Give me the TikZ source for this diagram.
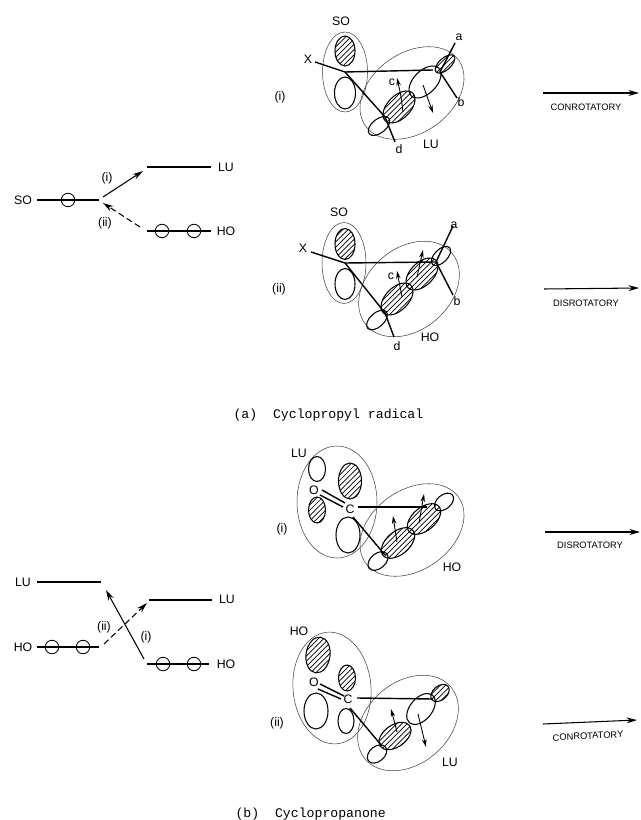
\documentclass[tikz,border=0pt]{standalone}
\usepackage{fontspec}
\setsansfont{Liberation Sans}
\setmonofont{Liberation Mono}
\usepackage{tikz}
\usetikzlibrary{arrows.meta}
\usetikzlibrary{patterns}
\usetikzlibrary{shapes.geometric}
\tikzset{every picture/.style={line width=0.6pt}}
\tikzset{
  lobesize/.style 2 args={minimum width=#1*0.02cm,minimum height=#2*0.02cm},
  lobe/.style={shape=ellipse,draw,inner sep=0pt,outer sep=0pt,line width=0.6pt},
  hatch/.style={lobe,pattern=north east lines},
  shell/.style={shape=ellipse,draw,inner sep=0pt,outer sep=0pt,line width=0.3pt,black!75},
  elec/.style={shape=circle,draw,inner sep=0pt,outer sep=0pt,minimum size=0.27cm,line width=0.5pt},
  lab/.style={font=\sffamily\fontsize{7}{8}\selectfont,inner sep=0pt},
  tiny lab/.style={font=\sffamily\fontsize{5.3}{6}\selectfont,inner sep=0pt},
  capline/.style={font=\ttfamily\fontsize{7.5}{9}\selectfont,inner sep=0pt,anchor=west},
  level/.style={line width=0.8pt},
  bond/.style={line width=0.8pt},
  go/.style={-{Stealth[length=6pt,width=3.4pt]},line width=0.6pt},
  spin/.style={-{Stealth[length=4.5pt,width=2.6pt]},line width=0.5pt},
  broken/.style={dash pattern=on 3.5pt off 2pt},
}
\begin{document}
\begin{tikzpicture}[x=0.02cm,y=-0.02cm]
\useasboundingbox (0,0) rectangle (640,820);
% levels (a)
\node[lab] (so) at (23,200) {SO};
\coordinate (so1) at (37,200);
\coordinate (so2) at (99,200);
\node[elec] (e1) at (68,200) {};
\draw[level] (so1) -- (so2);
\coordinate (lu1) at (147,167);
\coordinate (lu2) at (211,167);
\node[lab] (lu) at (226,167) {LU};
\draw[level] (lu1) -- (lu2);
\coordinate (ho1) at (147,231);
\coordinate (ho2) at (211,231);
\node[elec] (e2) at (162,231) {};
\node[elec] (e3) at (194,231) {};
\node[lab] (ho) at (226,231) {HO};
\draw[level] (ho1) -- (ho2);
\coordinate (g1) at (103,197);
\coordinate (g2) at (143,171);
\coordinate (g3) at (140,227);
\coordinate (g4) at (103,203);
\draw[go] (g1) -- (g2);
\draw[go,broken] (g3) -- (g4);
\node[lab] (l1) at (107,178) {(i)};
\node[lab] (l2) at (105,223) {(ii)};
% a (i)
\node[lab] (t1) at (280,97) {(i)};
\node[lab] (t2) at (341,21) {SO};
\node[lab] (t3) at (308,59) {X};
\node[shell,lobesize={45}{80}] (s1) at (345,72) {};
\node[shell,lobesize={114}{80},rotate=35] (s2) at (412,93) {};
\node[hatch,lobesize={20}{30}] (p1) at (345,51) {};
\node[lobe,lobesize={21}{32}] (p2) at (345,93) {};
\node[lobe,lobesize={25}{14},rotate=38] (p3) at (379,126) {};
\node[hatch,lobesize={39}{23},rotate=45] (p4) at (399,107) {};
\node[lobe,lobesize={39}{23},rotate=45] (p5) at (425,82) {};
\node[hatch,lobesize={24}{12},rotate=42] (p6) at (445,64) {};
\coordinate (x1) at (315,62);
\coordinate (c1) at (345,72);
\coordinate (c2) at (433,70);
\coordinate (c3) at (385,117);
\coordinate (c4) at (395,142);
\coordinate (c5) at (440,72);
\coordinate (c6) at (455,43);
\coordinate (c7) at (457,98);
\draw[bond] (x1) -- (c1) -- (c2);
\draw[bond] (c1) -- (c3) -- (c4);
\draw[bond] (c6) -- (c5) -- (c7);
\coordinate (r1) at (403,112);
\coordinate (r2) at (397,78);
\coordinate (r3) at (423,85);
\coordinate (r4) at (433,113);
\draw[spin] (r1) .. controls (401,96) .. (r2);
\draw[spin] (r3) -- (r4);
\node[lab] (t4) at (459,37) {a};
\node[lab] (t5) at (461,102) {b};
\node[lab] (t6) at (392,82) {c};
\node[lab] (t7) at (399,149) {d};
\node[lab] (t8) at (431,144) {LU};
% a (ii)
\node[lab] (u1) at (279,289) {(ii)};
\node[lab] (u2) at (339,212) {SO};
\node[lab] (u3) at (303,248) {X};
\node[shell,lobesize={44}{81}] (s3) at (344,263) {};
\node[shell,lobesize={112}{82},rotate=40] (s4) at (409,289) {};
\node[hatch,lobesize={20}{31}] (p7) at (345,244) {};
\node[lobe,lobesize={20}{31}] (p8) at (345,284) {};
\node[lobe,lobesize={25}{14},rotate=42] (p9) at (377,320) {};
\node[hatch,lobesize={39}{23},rotate=45] (p10) at (397,299) {};
\node[hatch,lobesize={39}{23},rotate=45] (p11) at (422,274) {};
\node[lobe,lobesize={24}{13},rotate=45] (p12) at (441,256) {};
\coordinate (x2) at (311,252);
\coordinate (d1) at (345,263);
\coordinate (d2) at (435,262);
\coordinate (d3) at (385,313);
\coordinate (d4) at (394,337);
\coordinate (d5) at (436,262);
\coordinate (d6) at (453,226);
\coordinate (d7) at (453,295);
\draw[bond] (x2) -- (d1) -- (d2);
\draw[bond] (d1) -- (d3) -- (d4);
\draw[bond] (d6) -- (d5) -- (d7);
\coordinate (r5) at (402,297);
\coordinate (r6) at (397,271);
\coordinate (r7) at (417,277);
\coordinate (r8) at (423,250);
\draw[spin] (r5) -- (r6);
\draw[spin] (r7) -- (r8);
\node[lab] (u5) at (454,225) {a};
\node[lab] (u6) at (457,301) {b};
\node[lab] (u7) at (391,276) {c};
\node[lab] (u8) at (397,346) {d};
\node[lab] (u9) at (430,337) {HO};
% side arrows (a)
\coordinate (k1) at (543,93);
\coordinate (k2) at (639,93);
\draw[go] (k1) -- (k2);
\node[tiny lab] (k3) at (586,107) {CONROTATORY};
\coordinate (k4) at (544,289);
\coordinate (k5) at (639,288);
\draw[go] (k4) -- (k5);
\node[tiny lab] (k6) at (586,303) {DISROTATORY};
\node[capline] (k7) at (233,415) {(a)\ \ Cyclopropyl radical};
% levels (b)
\node[lab] (lu3) at (23,582) {LU};
\coordinate (m1) at (37,582);
\coordinate (m2) at (101,582);
\draw[level] (m1) -- (m2);
\node[lab] (ho3) at (23,647) {HO};
\coordinate (m3) at (37,647);
\coordinate (m4) at (99,647);
\node[elec] (e4) at (52,647) {};
\node[elec] (e5) at (83,647) {};
\draw[level] (m3) -- (m4);
\coordinate (m5) at (149,600);
\coordinate (m6) at (212,600);
\node[lab] (lu4) at (227,599) {LU};
\draw[level] (m5) -- (m6);
\coordinate (m7) at (147,664);
\coordinate (m8) at (209,664);
\node[elec] (e6) at (163,664) {};
\node[elec] (e7) at (194,664) {};
\node[lab] (ho4) at (226,664) {HO};
\draw[level] (m7) -- (m8);
\coordinate (g5) at (144,659);
\coordinate (g6) at (106,590);
\coordinate (g7) at (104,644);
\coordinate (g8) at (147,603);
\draw[go] (g5) -- (g6);
\draw[go,broken] (g7) -- (g8);
\node[lab] (l3) at (104,627) {(ii)};
\node[lab] (l4) at (146,637) {(i)};
% b (i)
\node[lab] (v1) at (282,529) {(i)};
\node[lab] (v2) at (299,453) {LU};
\node[shell,lobesize={80}{112}] (s5) at (337,502) {};
\node[shell,lobesize={114}{80},rotate=35] (s6) at (412,530) {};
\node[lobe,lobesize={17}{25}] (p13) at (317,469) {};
\node[hatch,lobesize={23}{36}] (p14) at (350,481) {};
\node[hatch,lobesize={17}{26}] (p15) at (317,510) {};
\node[lobe,lobesize={24}{36}] (p16) at (348,535) {};
\node[lobe,lobesize={23}{15},rotate=40] (p17) at (378,561) {};
\node[hatch,lobesize={39}{23},rotate=40] (p18) at (398,543) {};
\node[hatch,lobesize={39}{23},rotate=40] (p19) at (424,519) {};
\node[lobe,lobesize={22}{14},rotate=40] (p20) at (444,502) {};
\node[lab] (o1) at (314,490) {O};
\node[lab] (c8) at (350,509) {C};
\coordinate (n1) at (322,490);
\coordinate (n2) at (345,503);
\coordinate (n3) at (320,495);
\coordinate (n4) at (343,507);
\coordinate (n5) at (358,507);
\coordinate (n6) at (427,507);
\coordinate (n7) at (353,517);
\coordinate (n8) at (385,555);
\draw[bond] (n1) -- (n2);
\draw[bond] (n3) -- (n4);
\draw[bond] (n5) -- (n6);
\draw[bond] (n7) -- (n8);
\coordinate (r9) at (397,542);
\coordinate (r10) at (393,516);
\coordinate (r11) at (419,523);
\coordinate (r12) at (424,494);
\draw[spin] (r9) -- (r10);
\draw[spin] (r11) -- (r12);
\node[lab] (v3) at (452,567) {HO};
% b (ii)
\node[lab] (w1) at (277,723) {(ii)};
\node[lab] (w2) at (299,631) {HO};
\node[shell,lobesize={78}{112},rotate=5] (s7) at (332,688) {};
\node[shell,lobesize={112}{82},rotate=40] (s8) at (408,723) {};
\node[hatch,lobesize={24}{36},rotate=-8] (p21) at (318,655) {};
\node[hatch,lobesize={17}{26}] (p22) at (347,678) {};
\node[lobe,lobesize={24}{36}] (p23) at (316,711) {};
\node[lobe,lobesize={16}{25}] (p24) at (346,721) {};
\node[lobe,lobesize={22}{15},rotate=40] (p25) at (377,754) {};
\node[hatch,lobesize={36}{22},rotate=35] (p26) at (395,736) {};
\node[lobe,lobesize={36}{22},rotate=50] (p27) at (421,709) {};
\node[hatch,lobesize={21}{14},rotate=40] (p28) at (440,693) {};
\node[lab] (o2) at (314,682) {O};
\node[lab] (c9) at (348,699) {C};
\coordinate (q1) at (320,684);
\coordinate (q2) at (344,696);
\coordinate (q3) at (318,689);
\coordinate (q4) at (341,699);
\coordinate (q5) at (357,698);
\coordinate (q6) at (433,699);
\coordinate (q7) at (350,708);
\coordinate (q8) at (382,746);
\draw[bond] (q1) -- (q2);
\draw[bond] (q3) -- (q4);
\draw[bond] (q5) -- (q6);
\draw[bond] (q7) -- (q8);
\coordinate (r13) at (397,732);
\coordinate (r14) at (391,709);
\coordinate (r15) at (418,714);
\coordinate (r16) at (426,747);
\draw[spin] (r13) -- (r14);
\draw[spin] (r15) -- (r16);
\node[lab] (w3) at (450,762) {LU};
% side arrows (b)
\coordinate (k8) at (545,532);
\coordinate (k9) at (640,532);
\draw[go] (k8) -- (k9);
\node[tiny lab] (k10) at (590,545) {DISROTATORY};
\coordinate (k11) at (543,724);
\coordinate (k12) at (637,720);
\draw[go] (k11) -- (k12);
\node[tiny lab,rotate=3] (k13) at (588,736) {CONROTATORY};
\node[capline] (k14) at (235,814) {(b)\ \ Cyclopropanone};
\end{tikzpicture}
\end{document}
